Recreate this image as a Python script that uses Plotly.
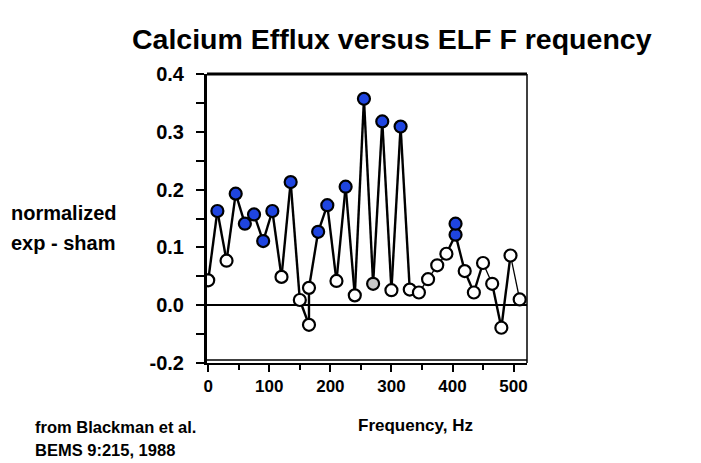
import plotly.graph_objects as go

# ---- data ----
freq_hz = [0, 15, 30, 45, 60, 75, 90, 105, 120, 135, 150, 165, 165, 180, 195, 210,
           225, 240, 255, 270, 285, 300, 315, 330, 345, 360, 375, 390, 405, 420,
           435, 450, 465, 480, 495, 510]
effect = [0.043, 0.163, 0.077, 0.193, 0.141, 0.157, 0.111, 0.163, 0.049, 0.213,
          0.009, -0.034, 0.030, 0.127, 0.173, 0.042, 0.205, 0.017, 0.357, 0.037,
          0.318, 0.026, 0.309, 0.027, 0.022, 0.045, 0.069, 0.089, 0.122, 0.059,
          0.022, 0.073, 0.037, -0.039, 0.086, 0.010]
# significance class per point: "sig" (blue), "ns" (white), "mid" (grey)
point_class = ["ns", "sig", "ns", "sig", "sig", "sig", "sig", "sig", "ns", "sig",
               "ns", "ns", "ns", "sig", "sig", "ns", "sig", "ns", "sig", "mid",
               "sig", "ns", "sig", "ns", "ns", "ns", "ns", "ns", "sig", "ns",
               "ns", "ns", "ns", "ns", "ns", "ns"]
# extra (unconnected) replicate point
extra_freq = [405]
extra_effect = [0.141]
extra_class = ["sig"]

x_tick_vals = [0, 100, 200, 300, 400, 500]
x_tick_text = ["0", "100", "200", "300", "400", "500"]
y_tick_vals = [-0.1, 0.0, 0.1, 0.2, 0.3, 0.4]
y_tick_text = ["-0.2", "0.0", "0.1", "0.2", "0.3", "0.4"]

title_text = "Calcium Efflux versus ELF F requency"
y_title = ["normalized", "exp - sham"]
x_title = "Frequency, Hz"
source_lines = ["from Blackman et al.", "BEMS 9:215, 1988"]

# ---- style ----
W, H = 701, 463
PL, PR, PT, PB = 199, 519, 66, 355   # plot box in pixels
FONT = "Liberation Sans, Arial, sans-serif"
BLUE = "#1f45e0"
fill_of = {"sig": BLUE, "ns": "white", "mid": "#c8c8c8"}
thin_segments = {(345, 360), (360, 375), (375, 390), (450, 465), (495, 510)}

def px_x(p):
    return (p - PL) / (PR - PL)

def px_y(p):
    return (PB - p) / (PB - PT)

fig = go.Figure()

# connecting line: thick and thin segments
thick_x, thick_y, thin_x, thin_y = [], [], [], []
for i in range(len(freq_hz) - 1):
    seg = (freq_hz[i], freq_hz[i + 1])
    if seg in thin_segments:
        thin_x += [freq_hz[i], freq_hz[i + 1], None]
        thin_y += [effect[i], effect[i + 1], None]
    else:
        thick_x += [freq_hz[i], freq_hz[i + 1], None]
        thick_y += [effect[i], effect[i + 1], None]

fig.add_trace(go.Scatter(x=thin_x, y=thin_y, mode="lines",
                         line=dict(color="black", width=1.3), hoverinfo="skip"))
fig.add_trace(go.Scatter(x=thick_x, y=thick_y, mode="lines",
                         line=dict(color="black", width=2.4), hoverinfo="skip"))

all_x = freq_hz + extra_freq
all_y = effect + extra_effect
all_c = point_class + extra_class
fig.add_trace(go.Scatter(
    x=all_x, y=all_y, mode="markers",
    marker=dict(size=12, color=[fill_of[c] for c in all_c],
                line=dict(color="black", width=2.2)),
    hoverinfo="x+y"))

fig.update_xaxes(range=[-2, 522], tickvals=x_tick_vals, ticktext=x_tick_text,
                 ticks="outside", ticklen=7, tickwidth=2, tickcolor="black",
                 minor=dict(tickvals=[50, 150, 250, 350, 450], ticks="outside",
                            ticklen=5, tickwidth=2, tickcolor="black"),
                 showline=True, linecolor="black", linewidth=2, mirror=False,
                 zeroline=False, ticklabelstandoff=0, showgrid=False,
                 tickfont=dict(family=FONT, size=17, color="black", weight="bold"))
fig.update_yaxes(range=[-0.1, 0.4], tickvals=y_tick_vals, ticktext=y_tick_text,
                 ticks="outside", ticklen=8, tickwidth=2, tickcolor="black",
                 minor=dict(tickvals=[-0.05, 0.05, 0.15, 0.25, 0.35], ticks="outside",
                            ticklen=8, tickwidth=2, tickcolor="black"),
                 showline=True, linecolor="black", linewidth=3, mirror=False,
                 zeroline=True, zerolinecolor="black", zerolinewidth=1.5,
                 ticklabelstandoff=8, showgrid=False,
                 tickfont=dict(family=FONT, size=20, color="black", weight="bold"))

shapes = [
    # top frame (thick)
    dict(type="line", xref="paper", yref="paper", x0=0, x1=1, y0=1, y1=1,
         line=dict(color="black", width=3)),
    # right frame
    dict(type="line", xref="paper", yref="paper", x0=1, x1=1, y0=0, y1=1,
         line=dict(color="black", width=1.5)),
    # inner bottom frame line (double line effect)
    dict(type="line", xref="paper", yref="paper", x0=0, x1=1, y0=px_y(PB - 3), y1=px_y(PB - 3),
         line=dict(color="black", width=1.5)),
]

anns = []
def add_text(text, x, y, size, xanchor="left", yanchor="middle"):
    anns.append(dict(text="<b>" + text + "</b>", x=px_x(x), y=px_y(y), xref="paper", yref="paper",
                     showarrow=False, xanchor=xanchor, yanchor=yanchor,
                     font=dict(family=FONT, size=size, color="black")))

add_text(title_text, 384, 31, 28.5, xanchor="center")
add_text(y_title[0], 1, 205, 20)
add_text(y_title[1], 1, 235, 20)
add_text(x_title, 407, 417, 17, xanchor="center")
add_text(source_lines[0], 25, 419, 16.5)
add_text(source_lines[1], 25, 442, 16.5)

fig.update_layout(width=W, height=H, autosize=False,
                  margin=dict(l=PL, r=W - PR, t=PT, b=H - PB, pad=0),
                  paper_bgcolor="white", plot_bgcolor="white",
                  showlegend=False, shapes=shapes, annotations=anns)

fig.write_html("out.html")
